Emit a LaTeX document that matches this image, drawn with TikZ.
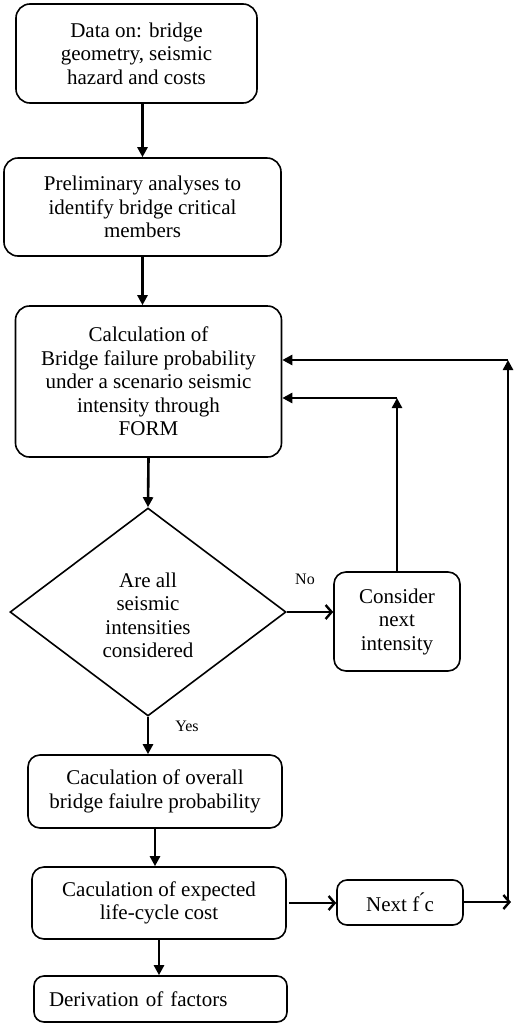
\documentclass[tikz,border=0pt]{standalone}
\usepackage{fontspec}
\setmainfont{Liberation Serif}
\usetikzlibrary{arrows.meta,shapes.geometric}
\begin{document}
\begin{tikzpicture}[x=1pt,y=-1pt,
  box/.style={draw,rounded corners=14pt,line width=1.6pt,inner sep=0pt,align=center,
    font=\fontsize{21}{23.5}\selectfont},
  dia/.style={draw,diamond,line width=1.6pt,inner sep=0pt,align=center,
    font=\fontsize{21}{23.5}\selectfont},
  arr/.style={line width=2.6pt,-{Triangle[length=10pt,width=10pt]}},
  oarr/.style={line width=2.6pt,-{Straight Barb[length=6pt,width=14pt,line width=2.4pt]}},
  lab/.style={font=\fontsize{16}{18}\selectfont,inner sep=0pt}]
\useasboundingbox (0,0) rectangle (517,1026);
\node[box,minimum width=241pt,minimum height=99pt] (b1) at (136.5,53.5)
  {Data on: bridge\\geometry, seismic\\hazard and costs};
\node[box,minimum width=277pt,minimum height=98pt] (b2) at (142.5,207)
  {Preliminary analyses to\\identify bridge critical\\members};
\node[box,minimum width=266pt,minimum height=151pt] (b3) at (148.5,381.5)
  {Calculation of\\Bridge failure probability\\under a scenario seismic\\intensity through\\FORM};
\node[dia,minimum width=276pt,minimum height=208pt] (d) at (148,612)
  {\\[-2pt]Are all\\seismic\\intensities\\considered};
\node[box,rounded corners=12pt,minimum width=126pt,minimum height=99pt] (c) at (397,621.5)
  {Consider\\next\\intensity};
\node[box,rounded corners=12pt,minimum width=254pt,minimum height=73pt] (b4) at (155,791.5)
  {Caculation of overall\\bridge faiulre probability};
\node[box,rounded corners=12pt,minimum width=254pt,minimum height=72pt] (b5) at (159,903)
  {Caculation of expected\\life-cycle cost};
\node[box,rounded corners=10pt,minimum width=126pt,minimum height=45pt] (n) at (400,902.5)
  {Next f\'{}c};
\node[box,rounded corners=10pt,minimum width=253pt,minimum height=46pt,inner xsep=15pt,
  text width=223pt,align=left] (b6) at (160.5,999) {Derivation of factors};
\coordinate (k1) at (397,398);
\coordinate (k2) at (508,902);
\coordinate (k3) at (508,360);
\draw[arr] (b2.north |- b1.south) -- (b2.north);
\draw[arr] (b2.south) -- (b2.south |- b3.north);
\draw[arr] (b3.south) -- (d.north);
\draw[arr] (d.south) -- (d.south |- b4.north);
\draw[arr] (b4.south) -- (b4.south |- b5.north);
\draw[arr] (b5.south) -- (b5.south |- b6.north);
\draw[oarr] (d.east) -- (d.east -| c.west);
\node[lab] (no) at (305,579) {No};
\node[lab] (yes) at (187,726) {Yes};
\draw[arr] (c.north) -- (k1);
\draw[arr] (k1) -- (b3.east |- k1);
\draw[oarr] ([xshift=2pt]b5.east) -- (b5.east -| n.west);
\draw[oarr] (n.east |- k2) -- ([xshift=3pt]k2);
\draw[arr] (k2) -- (k3);
\draw[arr] (k3) -- (b3.east |- k3);
\end{tikzpicture}
\end{document}
